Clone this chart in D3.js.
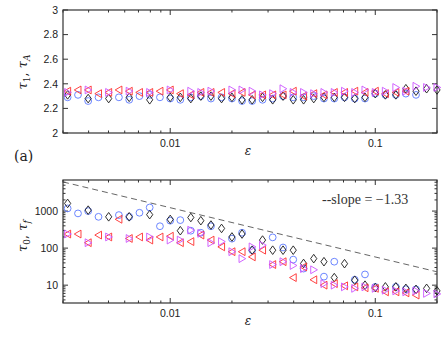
<!DOCTYPE html>
<html>
<head>
<meta charset="utf-8">
<script src="https://cdn.jsdelivr.net/npm/d3@7"></script>
<style>
  html, body { margin: 0; padding: 0; background: #fff; }
</style>
</head>
<body>
<svg id="chart"></svg>
<script>
// epsilon values (shared x for both panels)
const eps = [0.00316, 0.00355, 0.00398, 0.00447, 0.00501, 0.00562, 0.00631, 0.00708, 0.00794, 0.00891,
             0.0100, 0.0112, 0.0126, 0.0141, 0.0158, 0.0178, 0.0200, 0.0224, 0.0251, 0.0282,
             0.0316, 0.0355, 0.0398, 0.0447, 0.0501, 0.0562, 0.0631, 0.0708, 0.0794, 0.0891,
             0.100, 0.112, 0.126, 0.141, 0.158, 0.178, 0.200];

// top panel: tau_1, tau_A
const topBlue    = [2.29, 2.31, 2.26, 2.29, null, 2.29, 2.27, 2.30, 2.31, 2.29, 2.28, 2.27, 2.29, 2.30, 2.28, 2.29, 2.28, 2.26, 2.26, 2.27,
                    2.28, 2.30, 2.29, 2.29, 2.30, 2.28, 2.28, 2.29, 2.28, 2.28, 2.32, 2.31, 2.31, 2.32, 2.31, null, null];
const topBlack   = [2.31, null, 2.28, null, 2.28, null, 2.29, null, 2.27, null, 2.29, 2.29, 2.28, 2.30, 2.30, 2.28, 2.29, 2.27, 2.27, 2.29,
                    2.27, 2.30, 2.27, 2.27, 2.28, 2.29, 2.29, 2.29, 2.28, 2.29, 2.32, 2.31, 2.31, 2.36, 2.34, 2.36, 2.35];
const topRed     = [2.34, 2.35, 2.35, 2.32, 2.33, 2.35, 2.34, 2.33, 2.33, 2.34, 2.35, 2.32, 2.31, 2.33, 2.33, 2.33, 2.32, 2.33, 2.31, 2.31,
                    2.31, 2.31, 2.34, 2.30, 2.32, 2.31, 2.33, 2.33, 2.34, 2.33, 2.34, 2.32, 2.33, 2.34, null, null, null];
const topMagenta = [2.33, null, 2.35, null, 2.33, null, 2.34, null, 2.33, null, 2.35, null, 2.34, 2.33, 2.34, null, 2.35, 2.35, 2.34, 2.31,
                    2.32, 2.36, 2.33, 2.33, 2.32, 2.33, 2.33, 2.34, 2.33, 2.35, 2.33, 2.34, 2.37, 2.34, 2.38, 2.37, 2.37];

// bottom panel: tau_0, tau_f
const botBlue    = [1180, 865, 1000, 700, null, 780, 700, 900, 1250, 390, 550, 570, 295, 260, 390, null, 180, 260, 88, null,
                    195, 104, 49, 28, null, 17, 43, null, 14, 19.5, 9, null, 9, 7.8, 7.7, null, null];
const botBlack   = [1610, null, 1060, null, 700, null, 700, null, 800, null, 595, 295, 670, 550, 420, 340, 200, 240, 88, 165,
                    88, 88, 88, 38.5, 52, 43, 16, 38, 13.6, 10, 8.6, 9, 9, 8.2, 7.7, 8.2, 7];
const botRed     = [240, 240, 140, 225, 200, 600, 182, 200, 165, 200, 210, 140, 150, 225, 165, 108, 80, 80, 58, 88,
                    36, 43, 16, 31, 14, 10, 11, 9.6, 9, 8.5, 8.2, 6.6, 6.6, 6.2, 5.4, null, null];
const botMagenta = [240, null, 140, null, 200, null, 182, null, 200, null, 165, 165, 305, 250, 140, 150, 80, 52, 108, 120,
                    36, 43, 34, 28, 26, 11, 10, 9, 8.2, 9, 8.2, 7.3, 7, 6.6, 7, 6, 5.8];

// reference power law, tau ~ eps^slope
const slope = -1.33;
const slopeCoef = 2.7;

const topTicks = [2, 2.2, 2.4, 2.6, 2.8, 3];
const xTicks = [0.01, 0.1];
const logTicks = [10, 100, 1000];

(function() {
    'use strict';

    const W = 443, H = 337;
    const colors = { blue: '#5b78ff', black: '#1a1a1a', red: '#ff2e2e', magenta: '#cc55ff' };
    const SANS = '"Liberation Sans", Arial, sans-serif';
    const SERIF = '"DejaVu Serif", serif';

    const svg = d3.select('#chart').attr('width', W).attr('height', H);

    const x = d3.scaleLog().domain([0.003, 0.2]).range([63, 437]);
    const yTop = d3.scaleLinear().domain([2, 3]).range([133, 10]);
    const yBot = d3.scaleLog().domain([3.3, 6900]).range([303, 180]);

    // minor x ticks (2..9 multiples inside domain)
    const xMinor = [];
    [0.001, 0.01, 0.1].forEach(d => {
        for (let m = 2; m < 10; m++) {
            const v = d * m;
            if (v >= 0.003 && v <= 0.2) xMinor.push(v);
        }
    });
    const yMinor = [];
    [1, 10, 100, 1000].forEach(d => {
        for (let m = 2; m < 10; m++) {
            const v = d * m;
            if (v >= 3.3 && v <= 6900) yMinor.push(v);
        }
    });

    function frame(g, y, yMajor, yMin, labelFmt) {
        const [x0, x1] = x.range();
        const [yb, yt] = y.range();
        const ax = g.append('g').attr('stroke', '#333').attr('stroke-width', 1);

        // x ticks bottom and top
        xTicks.forEach(v => {
            ax.append('line').attr('x1', x(v)).attr('x2', x(v)).attr('y1', yb).attr('y2', yb - 5);
            ax.append('line').attr('x1', x(v)).attr('x2', x(v)).attr('y1', yt).attr('y2', yt + 5);
        });
        xMinor.forEach(v => {
            ax.append('line').attr('x1', x(v)).attr('x2', x(v)).attr('y1', yb).attr('y2', yb - 2.5);
            ax.append('line').attr('x1', x(v)).attr('x2', x(v)).attr('y1', yt).attr('y2', yt + 2.5);
        });
        yMajor.forEach(v => {
            ax.append('line').attr('x1', x0).attr('x2', x0 + 5).attr('y1', y(v)).attr('y2', y(v));
            ax.append('line').attr('x1', x1).attr('x2', x1 - 5).attr('y1', y(v)).attr('y2', y(v));
        });
        yMin.forEach(v => {
            ax.append('line').attr('x1', x0).attr('x2', x0 + 2.5).attr('y1', y(v)).attr('y2', y(v));
            ax.append('line').attr('x1', x1).attr('x2', x1 - 2.5).attr('y1', y(v)).attr('y2', y(v));
        });

        g.append('rect')
            .attr('x', x0).attr('y', yt)
            .attr('width', x1 - x0).attr('height', yb - yt)
            .attr('fill', 'none').attr('stroke', '#333').attr('stroke-width', 1.2);

        // tick labels
        yMajor.forEach(v => {
            g.append('text')
                .attr('x', x0 - 5).attr('y', y(v)).attr('dy', '0.36em')
                .attr('text-anchor', 'end').style('font-family', SANS).style('font-size', '10.5px')
                .attr('fill', '#222')
                .text(labelFmt(v));
        });
        xTicks.forEach(v => {
            g.append('text')
                .attr('x', x(v)).attr('y', yb + 14)
                .attr('text-anchor', 'middle').style('font-family', SANS).style('font-size', '10.5px')
                .attr('fill', '#222')
                .text(v);
        });
        g.append('text')
            .attr('x', 248).attr('y', yb + 22)
            .attr('text-anchor', 'middle')
            .style('font-family', SERIF).style('font-style', 'italic').style('font-size', '12px')
            .attr('fill', '#222')
            .text('ε');
    }

    function yLabel(g, cy, sub1, sub2) {
        const t = g.append('text')
            .attr('transform', `translate(27,${cy}) rotate(-90)`)
            .attr('text-anchor', 'middle')
            .style('font-family', SERIF).style('font-size', '13px')
            .attr('fill', '#222');
        t.append('tspan').style('font-style', 'italic').text('τ');
        t.append('tspan').style('font-size', '9px').attr('dy', 3).text(sub1);
        t.append('tspan').attr('dy', -3).text(',  ');
        t.append('tspan').style('font-style', 'italic').text('τ');
        t.append('tspan').style('font-size', '9px').style('font-style', 'italic').attr('dy', 3).text(sub2);
    }

    function markers(g, y, values, shape, color) {
        const pts = eps.map((e, i) => ({ e, v: values[i] })).filter(d => d.v != null);
        const s = g.append('g')
            .attr('fill', 'none').attr('stroke', color).attr('stroke-width', 0.9);
        pts.forEach(d => {
            const px = x(d.e), py = y(d.v);
            if (shape === 'circle') {
                s.append('circle').attr('cx', px).attr('cy', py).attr('r', 3.4);
            } else if (shape === 'diamond') {
                s.append('path').attr('d', `M${px},${py - 4.3}L${px + 3.1},${py}L${px},${py + 4.3}L${px - 3.1},${py}Z`);
            } else if (shape === 'left') {
                s.append('path').attr('d', `M${px - 3.7},${py}L${px + 3},${py - 3.9}L${px + 3},${py + 3.9}Z`);
            } else {
                s.append('path').attr('d', `M${px + 3.7},${py}L${px - 3},${py - 3.9}L${px - 3},${py + 3.9}Z`);
            }
        });
    }

    // top panel
    const top = svg.append('g');
    frame(top, yTop, topTicks, [], v => (v === 2 || v === 3) ? String(v) : v.toFixed(1));
    yLabel(top, 72, '1', 'A');
    markers(top, yTop, topBlue, 'circle', colors.blue);
    markers(top, yTop, topBlack, 'diamond', colors.black);
    markers(top, yTop, topRed, 'left', colors.red);
    markers(top, yTop, topMagenta, 'right', colors.magenta);

    top.append('text')
        .attr('x', 14).attr('y', 161)
        .style('font-family', SERIF).style('font-size', '14px')
        .attr('fill', '#222')
        .text('(a)');

    // bottom panel
    const bot = svg.append('g');
    frame(bot, yBot, logTicks, yMinor, v => String(v));
    yLabel(bot, 236, '0', 'f');

    const line = d3.line().x(d => x(d)).y(d => yBot(slopeCoef * Math.pow(d, slope)));
    bot.append('path')
        .attr('d', line(x.domain()))
        .attr('fill', 'none').attr('stroke', '#555').attr('stroke-width', 0.9)
        .attr('stroke-dasharray', '6,4');

    markers(bot, yBot, botBlue, 'circle', colors.blue);
    markers(bot, yBot, botBlack, 'diamond', colors.black);
    markers(bot, yBot, botRed, 'left', colors.red);
    markers(bot, yBot, botMagenta, 'right', colors.magenta);

    bot.append('text')
        .attr('x', 322).attr('y', 204)
        .style('font-family', '"Liberation Serif", serif').style('font-size', '14px')
        .attr('fill', '#333')
        .text('--slope = \u22121.33');
})();
</script>
</body>
</html>
